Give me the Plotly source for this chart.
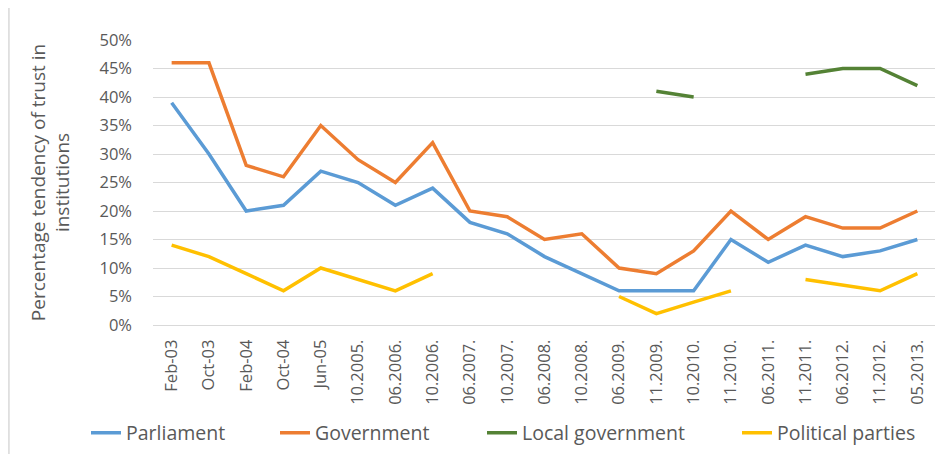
import plotly.graph_objects as go

categories = ["Feb-03", "Oct-03", "Feb-04", "Oct-04", "Jun-05", "10.2005.", "06.2006.", "10.2006.",
              "06.2007.", "10.2007.", "06.2008.", "10.2008.", "06.2009.", "11.2009.", "10.2010.",
              "11.2010.", "06.2011.", "11.2011.", "06.2012.", "11.2012.", "05.2013."]
parliament = [39, 30, 20, 21, 27, 25, 21, 24, 18, 16, 12, 9, 6, 6, 6, 15, 11, 14, 12, 13, 15]
government = [46, 46, 28, 26, 35, 29, 25, 32, 20, 19, 15, 16, 10, 9, 13, 20, 15, 19, 17, 17, 20]
local_government = [None, None, None, None, None, None, None, None, None, None, None, None, None,
                    41, 40, None, None, 44, 45, 45, 42]
political_parties = [14, 12, 9, 6, 10, 8, 6, 9, None, None, None, None, 5, 2, 4, 6, None, 8, 7, 6, 9]
y_ticks = [0, 5, 10, 15, 20, 25, 30, 35, 40, 45, 50]

series = [
    ("Parliament", parliament, "#5B9BD5"),
    ("Government", government, "#ED7D31"),
    ("Local government", local_government, "#548235"),
    ("Political parties", political_parties, "#FFC000"),
]

FONT = "Open Sans, sans-serif"
W, H = 935, 446
legend_names = ["legend", "legend2", "legend3", "legend4"]
legend_text_x = [118, 307, 514, 769]

fig = go.Figure()
for (name, vals, color), lg in zip(series, legend_names):
    fig.add_trace(go.Scatter(
        x=categories, y=[v / 100 if v is not None else None for v in vals],
        name=name, mode="lines", connectgaps=False, legend=lg,
        line=dict(color=color, width=3.5),
    ))

legend_layout = {}
for lg, tx in zip(legend_names, legend_text_x):
    legend_layout[lg] = dict(
        orientation="h", xref="container", x=(tx - 40) / W, xanchor="left",
        yref="container", y=0.047, yanchor="middle",
        font=dict(size=19.5, color="#595959"), bgcolor="rgba(0,0,0,0)",
        borderwidth=0,
    )

fig.update_layout(
    width=W, height=H,
    margin=dict(l=145, r=7, t=32, b=129, autoexpand=False),
    paper_bgcolor="white", plot_bgcolor="white",
    font=dict(family=FONT, color="#595959", size=15),
    showlegend=True,
    xaxis=dict(type="category", tickangle=-90, showgrid=False, ticks="",
               range=[-0.5, len(categories) - 0.5], automargin=False,
               tickfont=dict(size=16.5, color="#595959"), ticklabelstandoff=7,
               showline=True, linecolor="#D9D9D9", linewidth=1),
    yaxis=dict(range=[0, 0.5], tickvals=[v / 100 for v in y_ticks],
               ticktext=[f"{v}%" for v in y_ticks], automargin=False,
               showgrid=True, gridcolor="#D9D9D9", gridwidth=1, zeroline=False,
               tickfont=dict(size=16.5, color="#595959"), ticks="", ticklen=0,
               ticklabelstandoff=20,
               title=dict(text="Percentage tendency of trust in<br>institutions",
                          font=dict(size=19, color="#595959"), standoff=24)),
    **legend_layout,
)
fig.add_shape(type="line", xref="paper", yref="paper", x0=-0.184, x1=-0.184, y0=-0.5, y1=1.5,
              line=dict(color="#D9D9D9", width=1.5))

fig.write_html("out.html")
